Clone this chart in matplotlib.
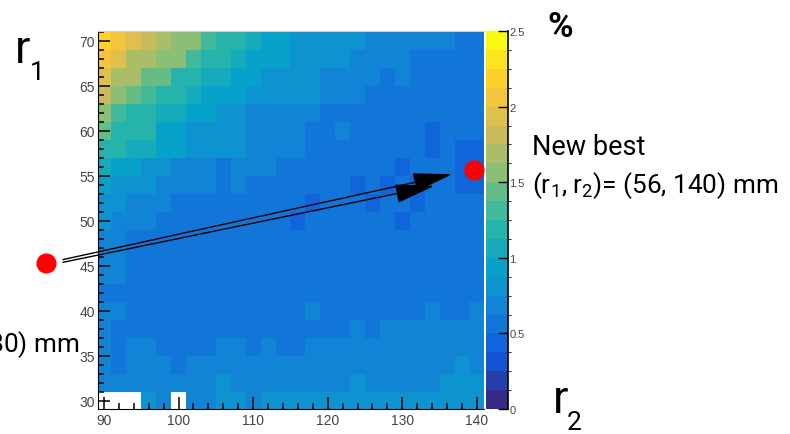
import numpy as np
import matplotlib
matplotlib.use('Agg')
import matplotlib.pyplot as plt
from matplotlib.colors import ListedColormap, BoundaryNorm
from matplotlib.patches import FancyArrowPatch
from matplotlib.ticker import MultipleLocator

# bin edges (mm): r2 on x, r1 on y
r2_edges = np.arange(89, 142, 2)
r1_edges = np.arange(29, 72, 2)

# values in %, one row per r1 bin, from r1 = 70 (top) down to r1 = 30
eff_rows = [
    [2.19, 2.06, 1.94, 1.81, 1.69, 1.56, 1.56, 1.31, 1.19, 1.19, 1.06, 0.94, 0.94, 0.81, 0.81, 0.81, 0.81, 0.81, 0.69, 0.69, 0.69, 0.69, 0.69, 0.69, 0.56, 0.56],
    [2.06, 1.94, 1.69, 1.69, 1.56, 1.56, 1.31, 1.19, 1.19, 1.06, 0.94, 0.94, 0.94, 0.81, 0.81, 0.81, 0.81, 0.69, 0.69, 0.69, 0.69, 0.56, 0.56, 0.56, 0.56, 0.56],
    [1.94, 1.69, 1.69, 1.44, 1.44, 1.19, 1.19, 1.06, 1.06, 0.94, 0.94, 0.81, 0.81, 0.81, 0.81, 0.69, 0.69, 0.69, 0.69, 0.56, 0.69, 0.56, 0.56, 0.56, 0.56, 0.56],
    [1.81, 1.56, 1.44, 1.31, 1.19, 1.19, 1.06, 0.94, 0.94, 0.94, 0.81, 0.81, 0.81, 0.81, 0.81, 0.69, 0.69, 0.69, 0.56, 0.56, 0.56, 0.56, 0.56, 0.56, 0.56, 0.56],
    [1.56, 1.31, 1.19, 1.19, 1.06, 1.06, 0.94, 0.94, 0.81, 0.81, 0.69, 0.69, 0.69, 0.69, 0.69, 0.56, 0.56, 0.56, 0.56, 0.56, 0.56, 0.56, 0.56, 0.56, 0.56, 0.56],
    [1.44, 1.19, 1.19, 1.19, 0.94, 0.94, 0.81, 0.81, 0.81, 0.81, 0.69, 0.69, 0.69, 0.69, 0.56, 0.56, 0.69, 0.56, 0.56, 0.56, 0.56, 0.56, 0.44, 0.56, 0.56, 0.56],
    [1.19, 1.19, 1.06, 1.06, 0.94, 0.94, 0.81, 0.81, 0.81, 0.81, 0.69, 0.69, 0.69, 0.69, 0.56, 0.56, 0.56, 0.56, 0.56, 0.56, 0.56, 0.56, 0.44, 0.56, 0.44, 0.44],
    [1.06, 0.94, 0.94, 0.81, 0.81, 0.69, 0.69, 0.69, 0.56, 0.69, 0.69, 0.69, 0.56, 0.56, 0.56, 0.56, 0.56, 0.56, 0.56, 0.56, 0.44, 0.56, 0.56, 0.56, 0.44, 0.44],
    [0.94, 0.81, 0.81, 0.81, 0.69, 0.69, 0.69, 0.69, 0.56, 0.69, 0.56, 0.56, 0.56, 0.56, 0.56, 0.56, 0.56, 0.44, 0.56, 0.44, 0.56, 0.44, 0.56, 0.56, 0.44, 0.44],
    [0.81, 0.81, 0.69, 0.69, 0.69, 0.56, 0.56, 0.56, 0.56, 0.56, 0.56, 0.56, 0.56, 0.56, 0.44, 0.56, 0.56, 0.56, 0.44, 0.56, 0.56, 0.44, 0.56, 0.56, 0.56, 0.56],
    [0.81, 0.69, 0.69, 0.69, 0.56, 0.56, 0.56, 0.56, 0.56, 0.56, 0.56, 0.56, 0.56, 0.44, 0.56, 0.56, 0.56, 0.56, 0.56, 0.56, 0.44, 0.56, 0.56, 0.56, 0.56, 0.56],
    [0.69, 0.69, 0.56, 0.56, 0.56, 0.56, 0.56, 0.56, 0.56, 0.56, 0.56, 0.56, 0.56, 0.56, 0.56, 0.56, 0.56, 0.56, 0.56, 0.56, 0.56, 0.56, 0.56, 0.56, 0.56, 0.56],
    [0.69, 0.69, 0.56, 0.56, 0.56, 0.56, 0.56, 0.56, 0.56, 0.56, 0.56, 0.56, 0.56, 0.56, 0.56, 0.56, 0.56, 0.56, 0.56, 0.56, 0.56, 0.56, 0.56, 0.56, 0.56, 0.56],
    [0.69, 0.69, 0.56, 0.56, 0.56, 0.56, 0.56, 0.56, 0.56, 0.56, 0.56, 0.56, 0.56, 0.56, 0.56, 0.56, 0.56, 0.56, 0.56, 0.56, 0.56, 0.56, 0.56, 0.56, 0.56, 0.56],
    [0.56, 0.56, 0.56, 0.56, 0.56, 0.56, 0.56, 0.56, 0.56, 0.56, 0.56, 0.56, 0.56, 0.56, 0.56, 0.56, 0.56, 0.56, 0.56, 0.56, 0.56, 0.56, 0.56, 0.56, 0.56, 0.56],
    [0.69, 0.69, 0.56, 0.56, 0.56, 0.56, 0.56, 0.56, 0.56, 0.56, 0.56, 0.56, 0.56, 0.56, 0.69, 0.56, 0.56, 0.56, 0.56, 0.56, 0.56, 0.56, 0.69, 0.56, 0.56, 0.69],
    [0.69, 0.56, 0.56, 0.56, 0.56, 0.56, 0.56, 0.56, 0.56, 0.56, 0.56, 0.56, 0.56, 0.56, 0.56, 0.56, 0.56, 0.69, 0.56, 0.69, 0.69, 0.69, 0.69, 0.69, 0.69, 0.69],
    [0.69, 0.56, 0.69, 0.69, 0.56, 0.56, 0.56, 0.56, 0.69, 0.69, 0.56, 0.69, 0.56, 0.56, 0.69, 0.69, 0.69, 0.69, 0.69, 0.69, 0.69, 0.69, 0.69, 0.69, 0.69, 0.69],
    [0.69, 0.56, 0.69, 0.69, 0.69, 0.56, 0.69, 0.69, 0.69, 0.69, 0.69, 0.69, 0.69, 0.69, 0.69, 0.69, 0.69, 0.69, 0.69, 0.69, 0.69, 0.69, 0.69, 0.69, 0.81, 0.69],
    [0.69, 0.69, 0.69, 0.69, 0.69, 0.69, 0.69, 0.69, 0.81, 0.69, 0.69, 0.69, 0.69, 0.69, 0.69, 0.69, 0.69, 0.81, 0.69, 0.69, 0.69, 0.69, 0.69, 0.81, 0.81, 0.81],
    [np.nan, np.nan, np.nan, 0.81, 0.69, np.nan, 0.69, 0.69, 0.81, 0.81, 0.69, 0.81, 0.81, 0.81, 0.81, 0.81, 0.81, 0.81, 0.81, 0.81, 0.81, 0.81, 0.81, 0.81, 0.81, 0.81],
]

cbar_ticks = [0, 0.5, 1, 1.5, 2, 2.5]
cbar_labels = ['0', '0.5', '1', '1.5', '2', '2.5']

# (r2, r1) of the two marked configurations
old_best = [82.2, 45.3]
new_best = [139.6, 55.7]

# ROOT kBird palette
stops = [0.0, 0.125, 0.25, 0.375, 0.5, 0.625, 0.75, 0.875, 1.0]
red = [0.2082, 0.0592, 0.0780, 0.0232, 0.1802, 0.5301, 0.8186, 0.9956, 0.9764]
green = [0.1664, 0.3599, 0.5041, 0.6419, 0.7178, 0.7492, 0.7328, 0.7862, 0.9832]
blue = [0.5293, 0.8684, 0.8385, 0.7914, 0.6425, 0.4662, 0.3499, 0.1968, 0.0539]
t = np.linspace(0, 1, 20)
colors = np.column_stack([np.interp(t, stops, red), np.interp(t, stops, green), np.interp(t, stops, blue)])
cmap = ListedColormap(colors)
cmap.set_bad('white')
norm = BoundaryNorm(np.linspace(0, 2.5, 21), cmap.N)

plt.rcParams['mathtext.default'] = 'regular'
W, H = 790, 435

fig = plt.figure(figsize=(7.9, 4.35), dpi=100)
ax = fig.add_axes([98 / W, 25 / H, 386 / W, 378 / H])
cax = fig.add_axes([486 / W, 25 / H, 22 / W, 378 / H])

eff = np.ma.masked_invalid(np.array(eff_rows)[::-1])
mesh = ax.pcolormesh(r2_edges, r1_edges, eff, cmap=cmap, norm=norm,
                     edgecolors='none', antialiased=False)
ax.set_xlim(89.2, 140.95)
ax.set_ylim(29.1, 71.1)

ax.set_xticks([90, 100, 110, 120, 130, 140])
ax.xaxis.set_minor_locator(MultipleLocator(2))
ax.set_yticks([30, 35, 40, 45, 50, 55, 60, 65, 70])
ax.yaxis.set_minor_locator(MultipleLocator(1))
ax.tick_params(which='both', direction='in', top=False, right=False,
               color='black', width=1.1, labelsize=10, labelcolor='#444444')
ax.tick_params(which='major', length=8.5)
ax.tick_params(which='minor', length=4.3)
ax.tick_params(axis='y', pad=2)
ax.tick_params(axis='x', pad=3)
for lab in ax.get_xticklabels() + ax.get_yticklabels():
    lab.set_family('Liberation Sans')
ax.spines['right'].set_visible(False)
ax.spines['top'].set_color('#cccccc')

# colour scale
cbar = fig.colorbar(mesh, cax=cax, ticks=cbar_ticks)
cbar.set_ticklabels(cbar_labels)
cbar.outline.set_visible(False)
cax.tick_params(direction='in', length=7, width=1, labelsize=8,
                labelcolor='#444444', pad=1, right=True, left=False)
for lab in cax.get_yticklabels():
    lab.set_family('Liberation Sans')
cax.plot([1, 1], [0, 1], transform=cax.transAxes, color='black', lw=1.2, clip_on=False)

# markers and arrows
ax.plot([old_best[0], new_best[0]], [old_best[1], new_best[1]], 'o', color='red',
        ms=13.5, mec='red', clip_on=False, zorder=6)
for tail, head in [((84.5, 45.7), (136.7, 55.2)), ((84.5, 45.4), (134.3, 53.9))]:
    arr = FancyArrowPatch(tail, head, arrowstyle='-|>,head_length=2.5,head_width=0.6',
                          mutation_scale=10, lw=1, color='black',
                          shrinkA=0, shrinkB=0, zorder=5)
    arr.set_clip_on(False)
    ax.add_patch(arr)

# labels
fam = ['Roboto', 'DejaVu Sans']
fig.text(15 / W, 1 - 63 / H, 'r', fontsize=33, family=fam, ha='left', va='baseline')
fig.text(30 / W, 1 - 80 / H, '1', fontsize=19, family=fam, ha='left', va='baseline')
fig.text(553 / W, 1 - 413 / H, 'r', fontsize=33, family=fam, ha='left', va='baseline')
fig.text(567 / W, 1 - 430 / H, '2', fontsize=19, family=fam, ha='left', va='baseline')
fig.text(547 / W, 1 - 37 / H, '%', fontsize=25, fontweight='bold', family=fam,
         ha='left', va='baseline')
fig.text(532 / W, 1 - 155 / H, 'New best', fontsize=19.5, family=fam,
         ha='left', va='baseline')
fig.text(532 / W, 1 - 193 / H, '(r$_1$, r$_2$)= (56, 140) mm', fontsize=18.8, family=fam,
         ha='left', va='baseline')
fig.text(80 / W, 1 - 352 / H, '(r$_1$, r$_2$)= (46, 80) mm', fontsize=18.8, family=fam,
         ha='right', va='baseline')

fig.savefig('out.png', dpi=100)
